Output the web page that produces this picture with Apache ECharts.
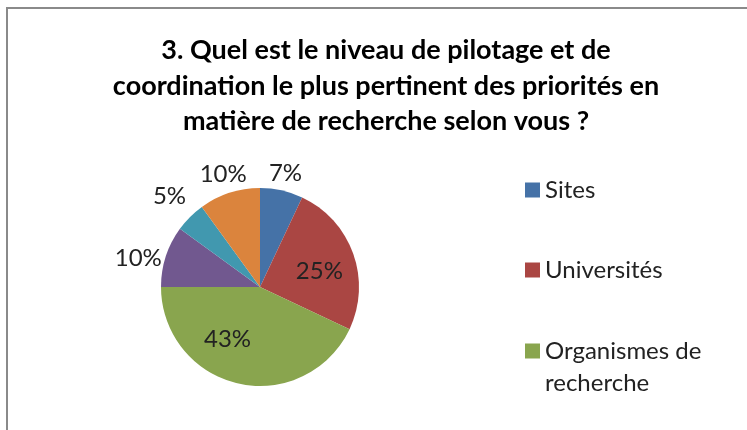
<!DOCTYPE html>
<html>
<head>
<meta charset="utf-8">
<script src="https://cdn.jsdelivr.net/npm/echarts@6/dist/echarts.min.js"></script>
<style>
  html, body { margin: 0; padding: 0; background: #fff; }
  #main { width: 747px; height: 430px; }
</style>
</head>
<body>
<div id="main"></div>
<script>
// réponses (en %), seules les 3 premières catégories sont visibles dans la légende
var categories = ['Sites', 'Universités', 'Organismes de recherche', 'Autre 1', 'Autre 2', 'Autre 3'];
var values = [7, 25, 43, 10, 5, 10];
var colors = ['#4572A7', '#AA4643', '#89A54E', '#71588F', '#4198AF', '#DB843D'];
var legendShown = ['Sites', 'Universités', 'Organismes de recherche'];
// étiquettes dans la part (true) ou à l'extérieur
var labelInside = [false, true, true, false, false, false];
// écart des étiquettes extérieures au bord du disque
var labelGap = [18, 0, 0, 29, 29, 20];
// petit décalage des étiquettes (placement "au mieux" d'Excel)
var labelShift = [[0, 0], [10, 2], [-21, 1], [0, 11], [0, 0], [0, 0]];

var chartDom = document.getElementById('main');
var myChart = echarts.init(chartDom);
var font = 'Lato, "Open Sans", sans-serif';

var pieData = categories.map(function (name, i) {
  return {
    name: name,
    value: values[i],
    itemStyle: { color: colors[i] },
    label: { position: labelInside[i] ? 'inside' : 'outside' },
    labelLine: { show: false, length: labelGap[i], length2: 0 }
  };
});

// la 3e entrée est sur deux lignes : carré aligné sur la première ligne
var legendTops = [170, 250, 330];
var legends = legendShown.map(function (name, i) {
  var twoLines = i === 2;
  return {
    data: [name],
    orient: 'vertical',
    left: 520,
    top: legendTops[i],
    itemWidth: 15,
    itemHeight: twoLines ? 47 : 15,
    icon: twoLines ? 'path://M0,0h1v1h-1z M0,3.133h0.001v0.001h-0.001z' : 'rect',
    selectedMode: false,
    textStyle: {
      fontFamily: font,
      fontSize: 24,
      color: '#222',
      width: 180,
      overflow: 'break',
      lineHeight: twoLines ? 32 : 30
    }
  };
});

var option = {
  animation: false,
  title: {
    text: '3. Quel est le niveau de pilotage et de\ncoordination le plus pertinent des priorités en\nmatière de recherche selon vous ?',
    left: 381,
    top: 28,
    textAlign: 'center',
    textStyle: {
      fontFamily: font,
      fontSize: 27,
      fontWeight: 'bold',
      lineHeight: 35.5,
      color: '#000'
    }
  },
  legend: legends,
  graphic: [{
    type: 'rect',
    shape: { x: 7, y: 8, width: 800, height: 500 },
    style: { fill: 'none', stroke: '#8a8a8a', lineWidth: 2 }
  }],
  series: [{
    type: 'pie',
    center: [260, 287],
    radius: 99,
    startAngle: 90,
    clockwise: true,
    avoidLabelOverlap: false,
    data: pieData,
    label: {
      formatter: '{d}%',
      fontFamily: font,
      fontSize: 24,
      color: '#222',
      distanceToLabelLine: 0
    },
    labelLayout: function (params) {
      var i = params.dataIndex;
      var s = labelShift[i];
      if (labelInside[i]) {
        return { dx: s[0], dy: s[1] };
      }
      return { align: 'center', verticalAlign: 'middle', dx: s[0], dy: s[1] };
    },
    emphasis: { disabled: true }
  }]
};

option && myChart.setOption(option);
</script>
</body>
</html>
